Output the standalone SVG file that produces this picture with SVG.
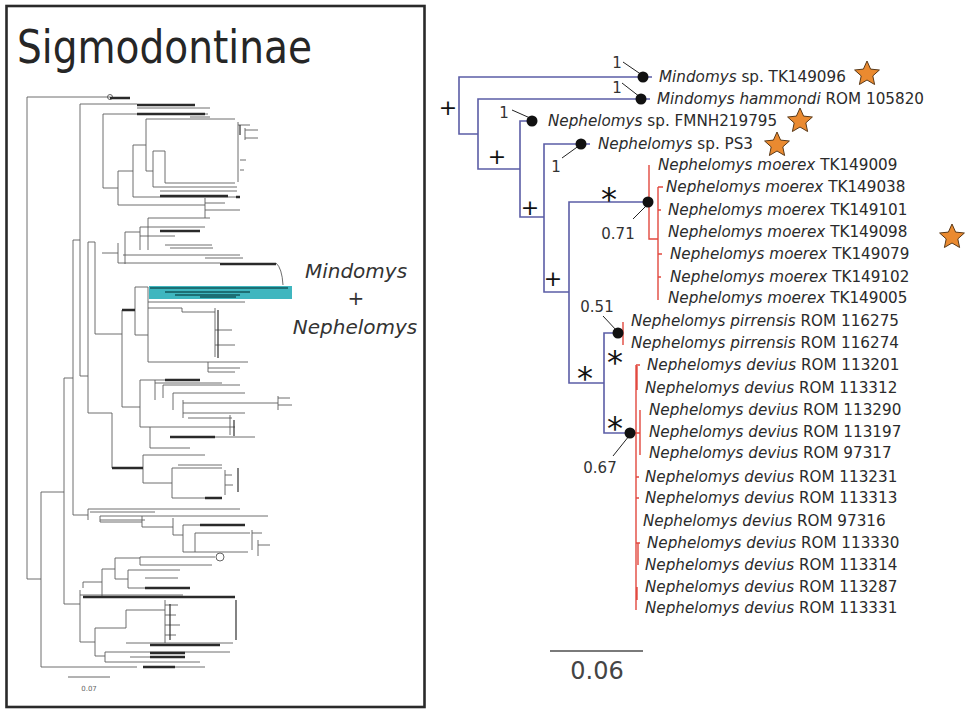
<svg xmlns="http://www.w3.org/2000/svg" xmlns:xlink="http://www.w3.org/1999/xlink" width="971" height="714" viewBox="0 0 971 714">
<style>
text{font-family:"DejaVu Sans","Liberation Sans",sans-serif}
.lbl{font-size:15.2px;fill:#2b2b2b}
.i{font-style:italic}
.sup{font-size:15px;fill:#333}
.sym{font-size:22px;fill:#111}
.ast{font-size:32px;fill:#111}
.br{stroke:#5b5da6;stroke-width:1.6;fill:none}
.rd{stroke:#e2493f;stroke-width:1.4;fill:none}
.ld{stroke:#222;stroke-width:1;fill:none}
.lt{stroke:#5e5e5e;stroke-width:0.9;fill:none}
.tk{stroke:#2a2a2a;stroke-width:2.4;fill:none}
.tip{stroke:#333;stroke-width:1.2;fill:none}
.dot{fill:#111}
.star{fill:#ea8a30;stroke:#5a3a1a;stroke-width:1}
</style>
<defs>
<path id="star" class="star" d="M0,-13 L3.6,-4.9 L12.4,-4 L5.8,1.9 L7.6,10.5 L0,6 L-7.6,10.5 L-5.8,1.9 L-12.4,-4 L-3.6,-4.9 Z"/>
</defs>
<rect width="971" height="714" fill="#fff"/>

<g id="overview">
<rect x="6.5" y="6" width="418" height="701" fill="none" stroke="#2a2a2a" stroke-width="2.6"/>
<text x="17" y="63" font-size="46" fill="#262626" textLength="295" lengthAdjust="spacingAndGlyphs">Sigmodontinae</text>
<rect x="149" y="286" width="143" height="13" fill="#3fb6bf"/>
<path class="lt" d="M27,97 V579 H41 M27,97 H110 M41,492 V667 M41,492 H64 M41,667 H137 M143,667 H205 M64,378 V604 M64,378 H73 M64,604 H80 M73,240 V515 M73,240 H80 M73,515 H88 M80,104 V376 M80,104 H137 M80,376 H88 M88,242 V413 M88,242 H95 M88,413 H112 M95,242 V334 H122
M103,114 V188 M103,114 H208 M103,188 H118 M118,171 V205 M118,171 H133 M118,205 H205 M133,145 V197 M133,145 H146 M133,197 H237 M146,119 V171 M146,119 H235 M146,171 H153 M153,151 V187 M153,151 H165 M165,151 V183 M165,183 H235 M153,187 H237 M160,191 H237 M137,108 H210 M190,117 H210
M238,122 V182 M238,125 H250 M245,128 V140 M245,130 H258 M245,138 H258 M240,160 H246 M240,170 H244
M205,198 V218 M205,203 H225 M205,210 H240 M148,218 V250 M148,218 H210 M140,227 V250 M140,227 H205 M125,232 V264 M125,232 H140
M123,255 H240 M140,236 H175 M165,245 H212 M170,248 H213 M205,258 H243 M118,243 V263 M102,253 H118 M118,263 H220 M276,263 Q282,268 283,285
M122,310 V407 M122,310 H135 M135,287 V335 M135,287 H148 M135,335 H148 M148,287 V362 M148,302 H245 M148,308 H182 M182,308 V312 M182,312 H215 M215,308 V357 M148,362 H248 M208,362 V372 M208,368 H240 M208,372 H235 M215,330 H232 M215,345 H235
M122,407 H140 M140,380 V427 M140,380 H200 M155,380 V400 M155,383 H222 M163,385 V398 M163,385 H240 M173,393 V410 M173,393 H245 M183,400 V418 M183,403 H278 M278,396 V410 M278,398 H290 M278,405 H292 M183,413 H245 M188,418 H232 M230,415 V435
M112,413 V468 M150,427 V448 M150,427 H235 M178,437 H255 M150,448 H190 M140,427 H150 M143,455 V483 M143,455 H205 M143,483 H172 M172,468 V498 M172,468 H222 M172,498 H220 M178,465 H222 M225,470 V495 M225,475 H232 M225,485 H233
M88,509 V520 M88,509 H240 M90,512 H155 M100,516 H268 M100,516 V522 M100,520 H145 M100,522 H142 M142,516 V527 M142,527 H173 M173,518 V535 M173,535 H183 M183,525 V552 M183,525 H245 M195,533 V552 M195,533 H250 M183,552 H248 M252,530 V550 M252,533 H262 M258,540 V556 M258,545 H270
M115,558 V579 M115,558 H140 M140,557 V565 M140,557 H215 M140,565 H212 M115,579 H128 M128,570 V588 M128,570 H180 M145,578 H178 M128,588 H190 M102,569 V597 M102,569 H115 M83,582 V588 M83,582 H102 M80,590 V642 M80,595 H183 M126,610 V628 M126,610 H165 M165,600 V643 M165,605 H178 M165,615 H176 M165,625 H180 M165,635 H176 M95,628 V656 M95,628 H126 M126,643 H233 M80,642 H95 M95,656 H105 M105,652 V662 M105,652 H230 M130,657 H180 M105,662 H200"/>
<circle cx="220" cy="557" r="4" fill="none" stroke="#555" stroke-width="0.9"/>
<circle cx="110" cy="97" r="2.5" fill="none" stroke="#555" stroke-width="0.9"/>
<path class="tk" d="M110,98 H130 M137,105 H195 M137,114 H205 M160,196 H228 M160,231 H200 M220,264 H276 M122,310 H135 M112,468 H143 M205,498 H222 M200,525 H245 M83,597 H235 M150,657 H185 M145,588 H190 M150,645 H220 M150,653 H185 M143,667 H175 M165,380 H200 M170,437 H215 M240,197 H236"/>
<path class="tip" d="M218,310 V358 M234,420 V436 M240,125 V135 M236,600 V640 M170,604 V640 M238,468 V492"/>
<path stroke="#1d6f74" stroke-width="2" fill="none" d="M150,288 H288 M165,292 H250 M175,295 H240 M200,297 H236"/>
<line x1="68" y1="677" x2="110" y2="677" stroke="#555" stroke-width="0.9"/>
<text x="89" y="691" font-size="7" fill="#666" text-anchor="middle">0.07</text>
<text x="356" y="278" font-size="20" font-style="italic" fill="#333" text-anchor="middle">Mindomys</text>
<text x="356" y="305" font-size="20" fill="#333" text-anchor="middle">+</text>
<text x="355" y="334" font-size="20" font-style="italic" fill="#333" text-anchor="middle">Nephelomys</text>
</g>

<g id="connectors">
<path class="br" d="M643,77 H459 V134 H478 M641,99 H478 V169 H520 M532,121 H520 V217 H544 M581,144 H544 V292 H569 M648,202 H569 V383 H604 M618,333 H604 V433 H630"/>
<path class="br" d="M643,77 H652 M641,99 H650 M581,144 H590"/>
<path class="rd" d="M649,165 V239 H658 M658,187 V300 M658,187 H663 M658,210 H661 M658,254 H662 M658,277 H661 M623,322 V345 M636,365 V610 M636,365 H640 M637,366 V390 M630,433 H640 M640,410 V455 M636,477 H639 M636,498 H639 M636,543 H640 M638,543 V565 M637,587 V600"/>
<path class="ld" d="M623,62 L642,75 M622,83 L640,97 M512,110 L530,118 M562,158 L580,145 M633,219 L647,205 M603,316 L617,331 M613,456 L629,436"/>
</g>

<g id="nodes">
<circle class="dot" cx="643" cy="77" r="5.5"/>
<circle class="dot" cx="641" cy="99" r="5.5"/>
<circle class="dot" cx="532" cy="121" r="5.5"/>
<circle class="dot" cx="581" cy="144" r="5.5"/>
<circle class="dot" cx="648" cy="202" r="5.5"/>
<circle class="dot" cx="618" cy="333" r="5.5"/>
<circle class="dot" cx="630" cy="433" r="5.5"/>
<text class="sup" x="617" y="68" text-anchor="middle">1</text>
<text class="sup" x="617" y="93" text-anchor="middle">1</text>
<text class="sup" x="504" y="118" text-anchor="middle">1</text>
<text class="sup" x="556" y="172" text-anchor="middle">1</text>
<text class="sup" x="618" y="239" text-anchor="middle">0.71</text>
<text class="sup" x="597" y="312" text-anchor="middle">0.51</text>
<text class="sup" x="600" y="473" text-anchor="middle">0.67</text>
<text class="sym" x="448" y="115" text-anchor="middle">+</text>
<text class="sym" x="497" y="164" text-anchor="middle">+</text>
<text class="sym" x="530" y="215" text-anchor="middle">+</text>
<text class="sym" x="553" y="286" text-anchor="middle">+</text>
<text class="ast" x="609" y="210" text-anchor="middle">*</text>
<text class="ast" x="585" y="389" text-anchor="middle">*</text>
<text class="ast" x="615" y="373" text-anchor="middle">*</text>
<text class="ast" x="615" y="439" text-anchor="middle">*</text>
</g>

<g id="taxa">
<text class="lbl" x="659" y="82"><tspan class="i">Mindomys</tspan> sp. TK149096</text>
<text class="lbl" x="657" y="104"><tspan class="i">Mindomys hammondi</tspan> ROM 105820</text>
<text class="lbl" x="548" y="126"><tspan class="i">Nephelomys</tspan> sp. FMNH219795</text>
<text class="lbl" x="598" y="149"><tspan class="i">Nephelomys</tspan> sp. PS3</text>
<text class="lbl" x="658" y="170"><tspan class="i">Nephelomys moerex</tspan> TK149009</text>
<text class="lbl" x="666" y="192"><tspan class="i">Nephelomys moerex</tspan> TK149038</text>
<text class="lbl" x="668" y="215"><tspan class="i">Nephelomys moerex</tspan> TK149101</text>
<text class="lbl" x="668" y="237"><tspan class="i">Nephelomys moerex</tspan> TK149098</text>
<text class="lbl" x="670" y="259"><tspan class="i">Nephelomys moerex</tspan> TK149079</text>
<text class="lbl" x="670" y="282"><tspan class="i">Nephelomys moerex</tspan> TK149102</text>
<text class="lbl" x="668" y="303"><tspan class="i">Nephelomys moerex</tspan> TK149005</text>
<text class="lbl" x="631" y="326"><tspan class="i">Nephelomys pirrensis</tspan> ROM 116275</text>
<text class="lbl" x="631" y="348"><tspan class="i">Nephelomys pirrensis</tspan> ROM 116274</text>
<text class="lbl" x="647" y="370"><tspan class="i">Nephelomys devius</tspan> ROM 113201</text>
<text class="lbl" x="645" y="393"><tspan class="i">Nephelomys devius</tspan> ROM 113312</text>
<text class="lbl" x="649" y="415"><tspan class="i">Nephelomys devius</tspan> ROM 113290</text>
<text class="lbl" x="649" y="437"><tspan class="i">Nephelomys devius</tspan> ROM 113197</text>
<text class="lbl" x="649" y="458"><tspan class="i">Nephelomys devius</tspan> ROM 97317</text>
<text class="lbl" x="645" y="482"><tspan class="i">Nephelomys devius</tspan> ROM 113231</text>
<text class="lbl" x="645" y="503"><tspan class="i">Nephelomys devius</tspan> ROM 113313</text>
<text class="lbl" x="643" y="526"><tspan class="i">Nephelomys devius</tspan> ROM 97316</text>
<text class="lbl" x="647" y="548"><tspan class="i">Nephelomys devius</tspan> ROM 113330</text>
<text class="lbl" x="645" y="570"><tspan class="i">Nephelomys devius</tspan> ROM 113314</text>
<text class="lbl" x="645" y="592"><tspan class="i">Nephelomys devius</tspan> ROM 113287</text>
<text class="lbl" x="645" y="613"><tspan class="i">Nephelomys devius</tspan> ROM 113331</text>
<use xlink:href="#star" href="#star" x="867" y="74"/>
<use xlink:href="#star" href="#star" x="800" y="121"/>
<use xlink:href="#star" href="#star" x="777" y="145"/>
<use xlink:href="#star" href="#star" x="952" y="237"/>
</g>

<g id="scalebar">
<line x1="550" y1="651" x2="643" y2="651" stroke="#7a7a7a" stroke-width="2"/>
<text x="597" y="679" font-size="24" fill="#444" text-anchor="middle">0.06</text>
</g>
</svg>
